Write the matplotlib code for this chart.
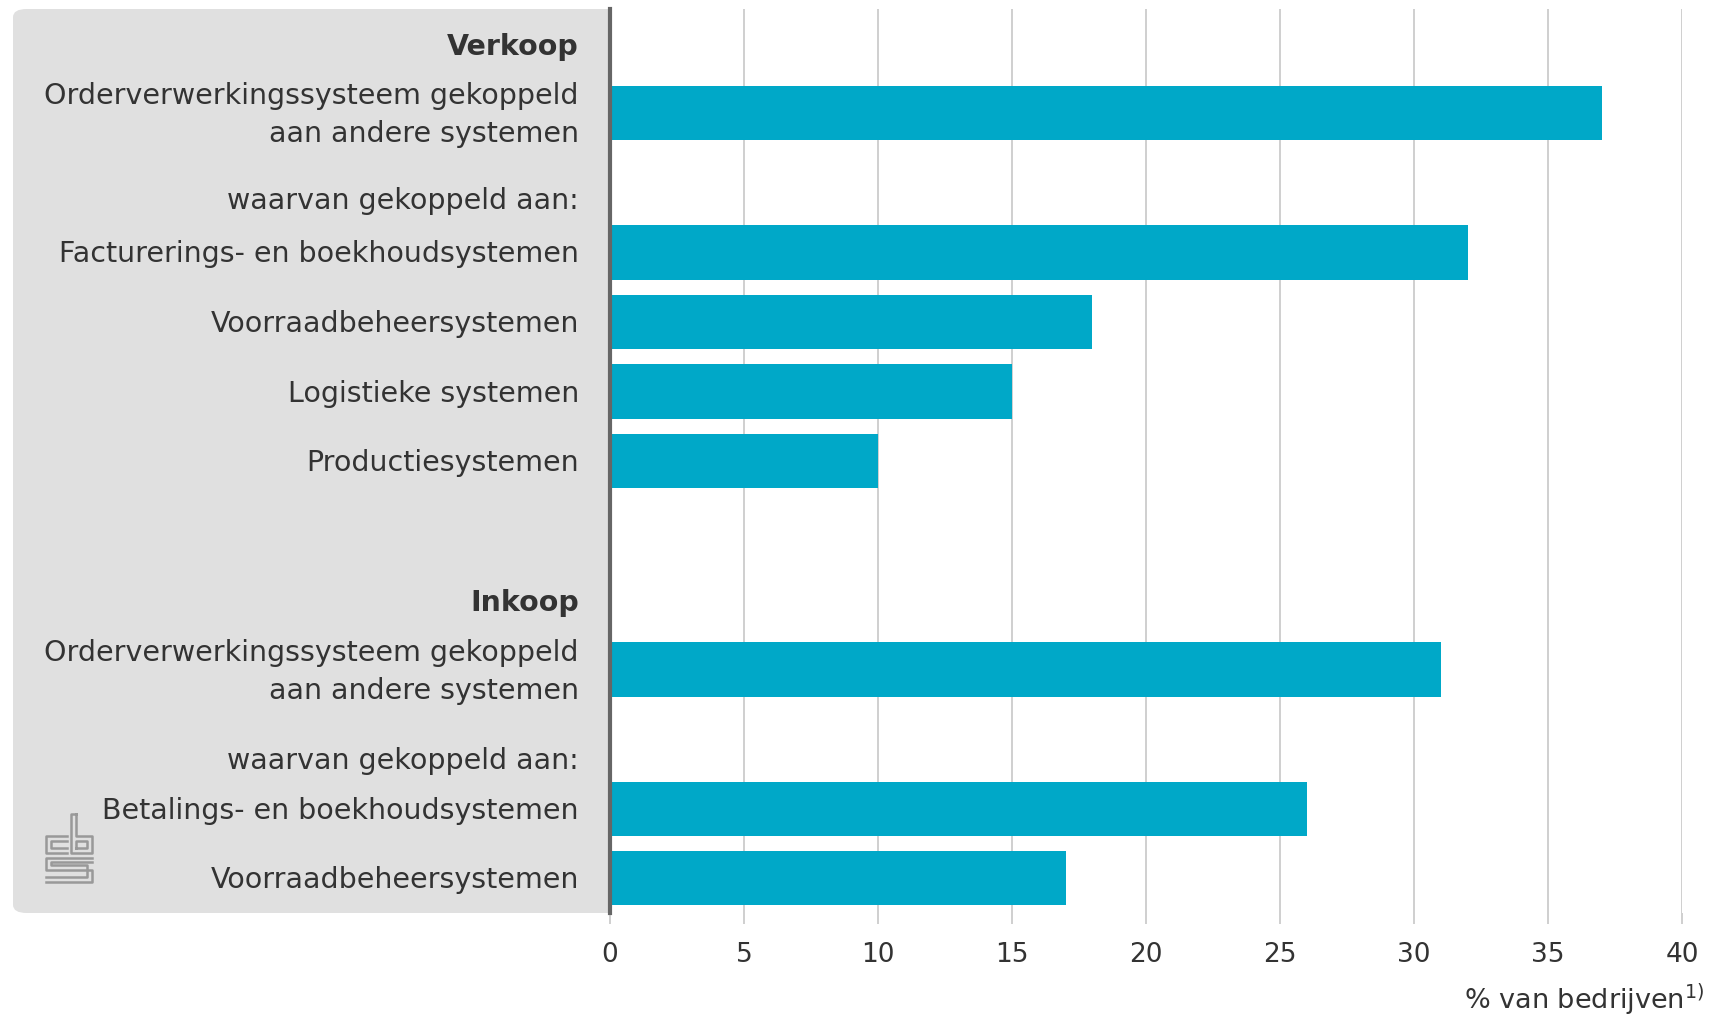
import matplotlib
matplotlib.use("Agg")
import matplotlib.pyplot as plt
from matplotlib.patches import FancyBboxPatch

plt.rcParams['font.family'] = ['DejaVu Sans']

# data (% van bedrijven)
verkoop_labels = ['Orderverwerkingssysteem gekoppeld\naan andere systemen',
                  'Facturerings- en boekhoudsystemen',
                  'Voorraadbeheersystemen',
                  'Logistieke systemen',
                  'Productiesystemen']
verkoop_values = [37, 32, 18, 15, 10]
inkoop_labels = ['Orderverwerkingssysteem gekoppeld\naan andere systemen',
                 'Betalings- en boekhoudsystemen',
                 'Voorraadbeheersystemen']
inkoop_values = [31, 26, 17]
xticks = [0, 5, 10, 15, 20, 25, 30, 35, 40]

bar_color = '#00a8c8'
text_color = '#333333'
grid_color = '#cccccc'

# row layout: first bar, then sub-rows after a "waarvan" line
verkoop_pos = [1.5, 3.5, 4.5, 5.5, 6.5]
inkoop_pos = [9.5, 11.5, 12.5]

W, H = 1713, 1022
fig = plt.figure(figsize=(W / 100, H / 100), dpi=100)
ax = fig.add_axes([610 / W, 1 - 913 / H, 1072 / W, 904 / H])

# grey label panel
panel = FancyBboxPatch((13 / W, 1 - 913 / H), 620 / W, 904 / H,
                       boxstyle='round,pad=0,rounding_size=0.008',
                       transform=fig.transFigure, facecolor='#e0e0e0',
                       edgecolor='none', zorder=-1)
fig.patches.append(panel)

ax.barh(verkoop_pos, verkoop_values, height=0.78, color=bar_color, zorder=3)
ax.barh(inkoop_pos, inkoop_values, height=0.78, color=bar_color, zorder=3)

ax.set_xlim(0, 40)
ax.set_ylim(13.0, 0.0)
ax.set_xticks(xticks)
ax.set_yticks([])
ax.xaxis.grid(True, color=grid_color, linewidth=1.3)
ax.set_axisbelow(True)
ax.tick_params(axis='x', length=8, width=1.3, color=grid_color,
               labelsize=19, labelcolor=text_color, pad=13)
for s in ['top', 'right', 'bottom']:
    ax.spines[s].set_visible(False)
ax.spines['left'].set_color('#666666')
ax.spines['left'].set_linewidth(3)
ax.spines['left'].set_zorder(5)

tr = ax.get_yaxis_transform()
lx = -0.029
lab_kw = dict(transform=tr, ha='right', va='center', fontsize=20.5,
              color=text_color, linespacing=1.45)
ax.text(lx, verkoop_pos[0] - 0.96, 'Verkoop', fontweight='bold', **lab_kw)
ax.text(lx, inkoop_pos[0] - 0.96, 'Inkoop', fontweight='bold', **lab_kw)
ax.text(lx, verkoop_pos[1] - 0.74, 'waarvan gekoppeld aan:', **lab_kw)
ax.text(lx, inkoop_pos[1] - 0.68, 'waarvan gekoppeld aan:', **lab_kw)
for p, lab in zip(verkoop_pos + inkoop_pos, verkoop_labels + inkoop_labels):
    ax.text(lx, p + 0.03, lab, **lab_kw)

fig.text(1704 / W, 1 - 1000 / H, r'% van bedrijven$^{1)}$', ha='right',
         va='center', fontsize=19.5, color=text_color)

# cbs logo, simple line drawing
lg = fig.add_axes([44 / W, 1 - 884 / H, 50 / W, 72 / H])
lg.set_xlim(-0.5, 10.5)
lg.set_ylim(-0.5, 14.5)
lg.axis('off')
logo_lines = [
    ([4.5, 0, 0, 4.5], [9.5, 9.5, 6, 6]),
    ([4.5, 1, 1, 4.5], [8.5, 8.5, 7, 7]),
    ([6.5, 5.5, 5.5, 10, 10, 6.5, 6.5], [14, 14, 6, 6, 9.5, 9.5, 14]),
    ([6.5, 9, 9, 6.5, 6.5], [7, 7, 8.5, 8.5, 7]),
    ([10, 0, 0, 10, 10, 0], [5, 5, 2.5, 2.5, 0, 0]),
    ([10, 1, 1, 9, 9, 0], [4, 4, 3.5, 3.5, 1, 1]),
]
for xs, ys in logo_lines:
    lg.plot(xs, ys, color='#999999', linewidth=1.8)

fig.savefig('out.png', dpi=100, facecolor='white')
